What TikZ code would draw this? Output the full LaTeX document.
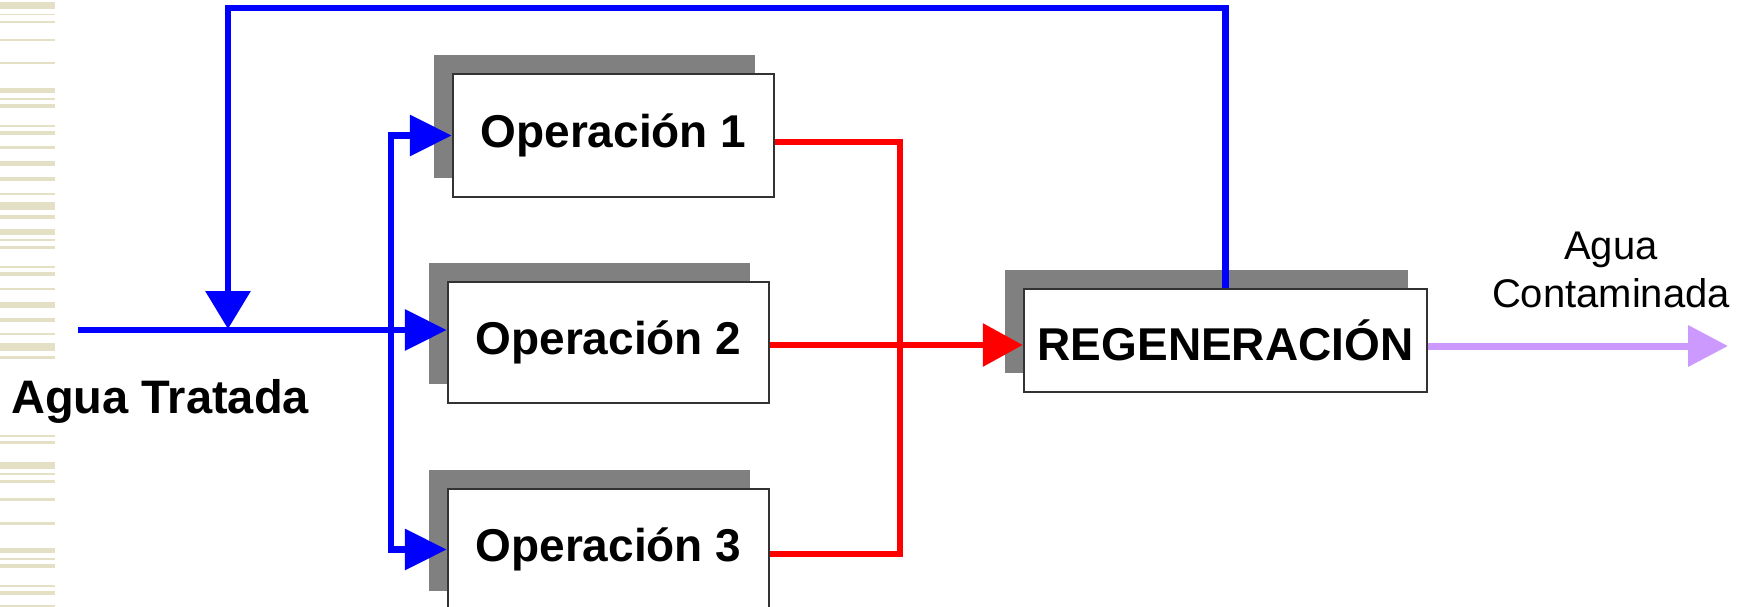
\documentclass[tikz,border=0pt]{standalone}
\usepackage{fontspec}
\setmainfont{Liberation Sans}
\usetikzlibrary{arrows.meta,shadows,calc}
\definecolor{stripe}{RGB}{227,224,198}
\definecolor{shgray}{RGB}{128,128,128}
\definecolor{bordergray}{RGB}{51,51,51}
\definecolor{lav}{RGB}{204,153,255}
\begin{document}
\begin{tikzpicture}[x=1pt,y=-1pt,
  opbox/.style={draw=bordergray, line width=2.5pt, fill=white, minimum width=321pt, minimum height=121pt, inner sep=0pt,
    font=\fontsize{46}{55}\selectfont\bfseries,
    general shadow={fill=shgray, shadow xshift=-19pt, shadow yshift=19pt}},
  bflow/.style={draw=blue, line width=6.5pt},
  rflow/.style={draw=red, line width=6.5pt},
  pflow/.style={draw=lav, line width=7pt},
  btip/.style={-{Triangle[length=42pt,width=40pt]}},
  dtip/.style={-{Triangle[length=38pt,width=44pt]}},
  rtip/.style={-{Triangle[length=40pt,width=42pt]}},
  ptip/.style={-{Triangle[length=40pt,width=40pt]}},
  lbl/.style={inner sep=0pt}
]
\useasboundingbox (0,0) rectangle (1747,607);
\fill[white] (0,0) rectangle (1747,607);
% decorative stripes at the left edge
\foreach \a/\b in {2/9,14.5/15.5,21/23,39/41,62/64,88/93,98/100,104/108,125/127,131/135,146/149,161/166,177/181,193/194.5,202/210,215/219,229/235,239/241,246/249,266/268,272/276,288/290,302/308,318/322,333/335,343/351,356/359,435/437,441/444,462/469,473/475,480/483,498/501,522/525,548/553,558/560,564/568,585/587,591/595,605/607}
  \fill[stripe] (0,\a) rectangle (55,\b);

% boxes
\node[opbox, minimum height=123pt] (op1) at (613.5,135.5) {Operación 1};
\node[opbox] (op2) at (608.5,342.5) {Operación 2};
\node[opbox] (op3) at (608.5,549.5) {Operación 3};
\node[opbox, minimum width=403pt, minimum height=103pt] (regen) at (1225.5,340.5) {REGENERACIÓN};

% labels
\node[lbl, anchor=base west, font=\fontsize{47}{56}\selectfont\bfseries] (lin) at (11,413) {Agua Tratada};
\node[lbl, align=center, font=\fontsize{40}{48}\selectfont] (lout) at (1611,270) {Agua\\Contaminada};

% coordinates
\coordinate (in) at (78,330);
\coordinate (j) at (391,330);
\coordinate (top) at (0,8);
\coordinate (fb) at (228,329);
\coordinate (rx) at (900,0);
\coordinate (o2) at ($(op2.east)+(0,2.5)$);
\coordinate (rj) at (rx |- o2);
\coordinate (out) at (1728,346);

% blue feed
\draw[bflow, btip] (in) -- (op2.west |- in);
\draw[bflow, btip] (j) |- (op1.west);
\draw[bflow, btip] (j) |- (op3.west);
% blue recycle
\draw[bflow, dtip] (regen.north) -- (regen.north |- top) -| (fb);

% red collectors
\draw[rflow] ($(op1.east)+(0,6.5)$) -| (rj);
\draw[rflow] ($(op3.east)+(0,4.5)$) -| (rj);
\draw[rflow, rtip] (o2) -- (regen.west |- o2);

% output
\draw[pflow, ptip] (regen.east |- out) -- (out);
\end{tikzpicture}
\end{document}
